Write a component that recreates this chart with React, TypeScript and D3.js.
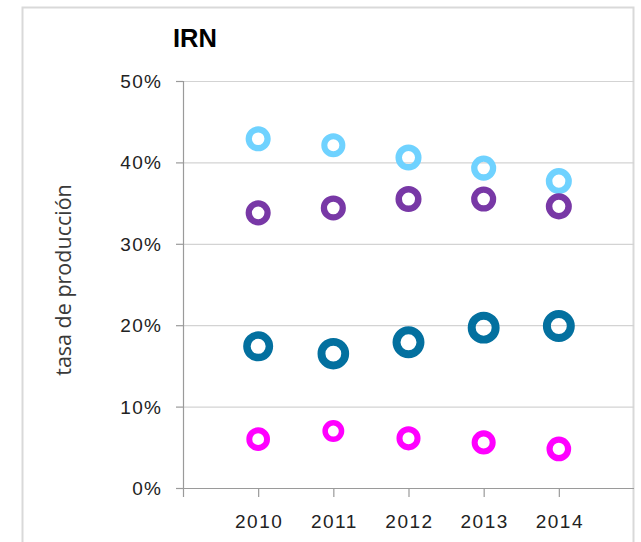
import React from 'react';
import * as d3 from 'd3';

// categories
const years = ['2010', '2011', '2012', '2013', '2014'];
const yTicks = [0, 10, 20, 30, 40, 50];

// tasa de producción (%) por serie
const celeste = [42.9, 42.1, 40.6, 39.3, 37.7];
const morado = [33.8, 34.4, 35.5, 35.5, 34.6];
const azul = [17.4, 16.5, 17.9, 19.7, 19.9];
const magenta = [6.0, 7.0, 6.1, 5.6, 4.8];

// bubble sizes
const celesteSize = [6.3, 5.8, 6.8, 6.3, 6.8];
const moradoSize = [6.3, 6.3, 6.8, 6.3, 6.8];
const azulSize = [9.0, 10.0, 10.2, 10.2, 10.2];
const magentaSize = [5.6, 4.8, 5.8, 5.8, 6.1];

const series = [
   { name: 'celeste', color: '#6fd2ff', values: celeste, sizes: celesteSize },
   { name: 'morado', color: '#7838a6', values: morado, sizes: moradoSize },
   { name: 'azul', color: '#03709f', values: azul, sizes: azulSize },
   { name: 'magenta', color: '#ff00ff', values: magenta, sizes: magentaSize },
];

const W = 641;
const H = 542;
const left = 183;
const right = 634;
const top = 81;
const bottom = 488;

const App: React.FC = () => {
   const x = d3.scalePoint<string>().domain(years).range([left, right]).padding(1);
   const y = d3.scaleLinear().domain([0, 50]).range([bottom, top]);
   const r = d3.scaleSqrt().domain([0, 10.24]).range([0, 16]);
   const fmt = (d: number) => `${d}%`;

   return (
      <svg
         width={W}
         height={H}
         style={{ position: 'absolute', left: 0, top: 0, background: '#fff' }}
      >
         <rect x={22.5} y={7.5} width={611} height={560} fill="#fff" stroke="#d9d9d9" strokeWidth={2} />

         <text x={195} y={47} textAnchor="middle" fontFamily="'Liberation Sans', Arial, sans-serif"
            fontWeight="bold" fontSize={25.5} fill="#000">IRN</text>

         {/* grid */}
         {yTicks.filter((t) => t > 0).map((t) => (
            <line key={t} x1={left} x2={right} y1={y(t) + 0.5} y2={y(t) + 0.5} stroke="#d3d3d3" strokeWidth={1.2} />
         ))}

         {/* axes */}
         <line x1={left + 0.5} x2={left + 0.5} y1={top} y2={bottom + 9} stroke="#9a9a9a" strokeWidth={1.2} />
         <line x1={left} x2={right} y1={bottom + 0.5} y2={bottom + 0.5} stroke="#9a9a9a" strokeWidth={1.2} />
         {yTicks.map((t) => (
            <line key={t} x1={left - 7} x2={left} y1={y(t) + 0.5} y2={y(t) + 0.5} stroke="#9a9a9a" strokeWidth={1.2} />
         ))}
         {years.map((yr) => (
            <line key={yr} x1={x(yr)! + 0.5} x2={x(yr)! + 0.5} y1={bottom} y2={bottom + 9} stroke="#9a9a9a" strokeWidth={1.2} />
         ))}

         {/* tick labels */}
         {yTicks.map((t) => (
            <text key={t} x={162} y={y(t) + 7} textAnchor="end" fontFamily="'Liberation Sans', Arial, sans-serif"
               fontSize={19} letterSpacing={1.2} fill="#222">{fmt(t)}</text>
         ))}
         {years.map((yr) => (
            <text key={yr} x={x(yr)! + 1} y={528} textAnchor="middle" fontFamily="'Liberation Sans', Arial, sans-serif"
               fontSize={19} letterSpacing={1.5} fill="#222">{yr}</text>
         ))}

         <text transform={`translate(71,280) rotate(-90)`} textAnchor="middle"
            fontFamily="'Open Sans', sans-serif" fontSize={21.5} fill="#3a3a3a">tasa de producción</text>

         {/* bubbles */}
         {series.map((s) => (
            <g key={s.name}>
               {s.values.map((v, i) => {
                  const R = r(s.sizes[i]);
                  const sw = R * 0.5;
                  return (
                     <circle key={i} cx={x(years[i])} cy={y(v)} r={R - sw / 2}
                        fill="none" stroke={s.color} strokeWidth={sw} />
                  );
               })}
            </g>
         ))}
      </svg>
   );
};

export default App;
